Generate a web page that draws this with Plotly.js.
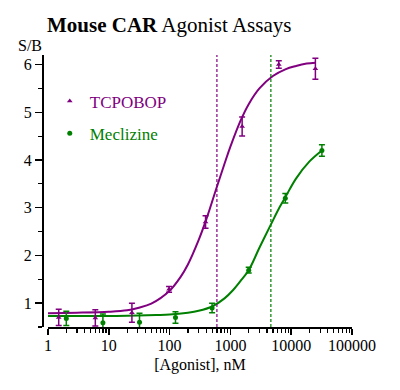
<!DOCTYPE html>
<html>
<head>
<meta charset="utf-8">
<script src="https://cdn.plot.ly/plotly-3.0.1.min.js"></script>
<style>
html,body{margin:0;padding:0;background:#fff;}
#chart{width:400px;height:390px;}
</style>
</head>
<body>
<div id="chart"></div>
<script>
// ---- data ----
const tcpoConc = [1.5, 6, 24, 98, 390, 1560, 6250, 25000];
const tcpoSB   = [0.70, 0.69, 0.80, 1.29, 2.70, 4.70, 6.00, 5.91];
const tcpoErr  = [0.17, 0.17, 0.20, 0.06, 0.13, 0.20, 0.08, 0.22];

const mecConc = [2, 8, 32, 125, 500, 2000, 8000, 32000];
const mecSB   = [0.68, 0.59, 0.60, 0.70, 0.90, 1.69, 3.20, 4.20];
const mecErr  = [0.15, 0.18, 0.19, 0.12, 0.10, 0.06, 0.10, 0.12];

// fitted curves
const tcpoFitX = [1, 3, 10, 20, 30, 50, 100, 150, 200, 300, 400, 600, 800, 1000, 1500, 2000, 3000, 5000, 8000, 12000, 18000, 25000];
const tcpoFitY = [0.79, 0.80, 0.82, 0.85, 0.90, 0.99, 1.26, 1.54, 1.81, 2.32, 2.75, 3.44, 3.92, 4.28, 4.85, 5.17, 5.50, 5.76, 5.90, 5.97, 6.02, 6.04];
const mecFitX = [1, 3, 10, 30, 60, 100, 200, 300, 500, 800, 1100, 1500, 2000, 3000, 4600, 6500, 8000, 12000, 20000, 32000];
const mecFitY = [0.73, 0.73, 0.73, 0.74, 0.75, 0.76, 0.80, 0.84, 0.93, 1.10, 1.27, 1.48, 1.69, 2.16, 2.64, 3.02, 3.22, 3.61, 3.97, 4.20];

// EC50 values (dashed lines)
const tcpoEC50 = 600;
const mecEC50 = 4630;

const seriesNames = ["TCPOBOP", "Meclizine"];
const xTicks = [1, 10, 100, 1000, 10000, 100000];
const xTickLabels = ["1", "10", "100", "1000", "10000", "100000"];
const yRange = [0.5, 6.2];

const PURPLE = "#800080";
const GREEN = "#008000";
const FONT = "Liberation Serif";

const traces = [
  {x: tcpoFitX, y: tcpoFitY, mode: "lines", line: {color: PURPLE, width: 2, shape: "spline"}, showlegend: false, hoverinfo: "skip"},
  {x: mecFitX, y: mecFitY, mode: "lines", line: {color: GREEN, width: 2, shape: "spline"}, showlegend: false, hoverinfo: "skip"},
  {x: [tcpoEC50, tcpoEC50], y: yRange, mode: "lines", line: {color: PURPLE, width: 1.2, dash: "3px,2px"}, showlegend: false, hoverinfo: "skip"},
  {x: [mecEC50, mecEC50], y: yRange, mode: "lines", line: {color: GREEN, width: 1.2, dash: "3px,2px"}, showlegend: false, hoverinfo: "skip"},
  {x: tcpoConc, y: tcpoSB, mode: "markers", name: '<span style="color:' + PURPLE + '">' + seriesNames[0] + '</span>',
   legendgroup: "a",
   marker: {symbol: "triangle-up", size: 5, color: PURPLE},
   error_y: {type: "data", array: tcpoErr, visible: true, color: PURPLE, thickness: 1.5, width: 3}},
  {x: mecConc, y: mecSB, mode: "markers", name: '<span style="color:' + GREEN + '">' + seriesNames[1] + '</span>',
   legendgroup: "b",
   marker: {symbol: "circle", size: 5, color: GREEN},
   error_y: {type: "data", array: mecErr, visible: true, color: GREEN, thickness: 1.5, width: 3}}
];

const layout = {
  width: 400, height: 390,
  margin: {l: 42, r: 48, t: 55, b: 62.5, pad: 0},
  paper_bgcolor: "#fff", plot_bgcolor: "#fff",
  font: {family: FONT, size: 16, color: "#000"},
  title: {text: "<b>Mouse CAR</b> Agonist Assays", font: {family: FONT, size: 21, color: "#000"},
          xref: "container", yref: "container", x: 0.1175, xanchor: "left", y: 1 - 25/390, yanchor: "middle"},
  showlegend: true,
  legend: {x: 0.025, y: 0.895, xanchor: "left", yanchor: "top", bgcolor: "rgba(0,0,0,0)",
           font: {family: FONT, size: 17}, traceorder: "grouped", tracegroupgap: 7},
  xaxis: {
    type: "log", range: [0, 5], domain: [6/310, 1],
    showline: true, linecolor: "#000", linewidth: 1.5,
    showgrid: false, zeroline: false,
    ticks: "outside", ticklen: 6, tickwidth: 1.5, tickcolor: "#000",
    tickmode: "array", tickvals: xTicks, ticktext: xTickLabels,
    tickfont: {family: FONT, size: 16}, ticklabelstandoff: -3,
    minor: {ticks: "outside", ticklen: 4, tickwidth: 1.2, tickcolor: "#000", dtick: "D1", showgrid: false},
    title: {text: "[Agonist], nM", font: {family: FONT, size: 16}, standoff: 6}
  },
  yaxis: {
    range: yRange, anchor: "free", position: 0,
    showline: true, linecolor: "#000", linewidth: 1.5,
    showgrid: false, zeroline: false,
    ticks: "outside", ticklen: 7, tickwidth: 1.5, tickcolor: "#000",
    dtick: 1, tick0: 0,
    tickfont: {family: FONT, size: 16},
    minor: {ticks: "outside", ticklen: 4, tickwidth: 1.2, tickcolor: "#000", dtick: 0.5, showgrid: false}
  },
  annotations: [
    {text: "S/B", xref: "paper", yref: "paper", x: -12/310, y: (272.5 + 10)/272.5, xanchor: "center", yanchor: "middle",
     showarrow: false, font: {family: FONT, size: 16, color: "#000"}}
  ]
};

Plotly.newPlot("chart", traces, layout, {displayModeBar: false, staticPlot: true});
</script>
</body>
</html>
